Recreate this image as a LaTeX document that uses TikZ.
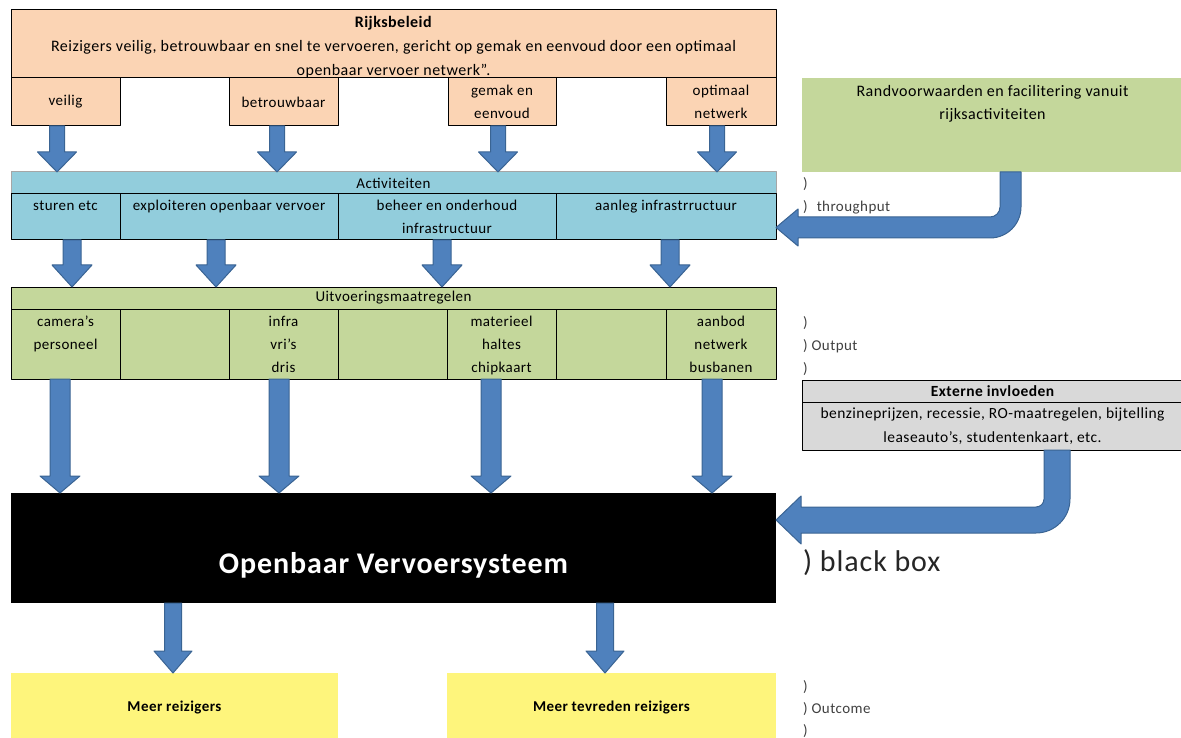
\documentclass[tikz,border=0pt]{standalone}
\usepackage{fontspec}
\setmainfont{Carlito}[LetterSpace=3]
\usetikzlibrary{positioning,calc}
\definecolor{peach}{HTML}{FBD4B4}
\definecolor{lblue}{HTML}{92CDDC}
\definecolor{olive}{HTML}{C4D79B}
\definecolor{lgray}{HTML}{D9D9D9}
\definecolor{lyellow}{HTML}{FEF57C}
\definecolor{arrblue}{HTML}{4F81BD}
\definecolor{arrline}{HTML}{3A6493}
% cell with its text at the top
\newcommand\topcell[3]{\parbox[b][#2pt][t]{#1pt}{\centering\rule{0pt}{17pt}#3}}
\begin{document}
\begin{tikzpicture}[x=1pt, y=-1pt, line join=round,
	font=\fontsize{15}{23}\selectfont,
	box/.style={draw, line width=1pt, inner sep=0pt, outer sep=0pt, anchor=north west, align=center},
	cell/.style={box, right=0pt of #1},
	fatarrow/.style={fill=arrblue, draw=arrline, line width=1pt},
	lbl/.style={inner sep=0pt, anchor=west, align=left, text=black!75}]
	\def\fatdown#1#2#3#4#5{\path[fatarrow] let \p1=#1, \p2=#2 in (\x1-#3pt,\y1) -- (\x1-#3pt,\y2+#5pt) -- (\x1-#4pt,\y2+#5pt) -- (\x1,\y2) -- (\x1+#4pt,\y2+#5pt) -- (\x1+#3pt,\y2+#5pt) -- (\x1+#3pt,\y1) -- cycle;}
	\def\bentarrow#1#2#3#4#5#6#7#8{\path[fatarrow] ($#1+(-#4,0)$) -- ($#2+(-#4,-#4-#7)$)
		.. controls ($#2+(-#4,-#4-0.448*#7)$) and ($#2+(-#4-0.448*#7,-#4)$) .. ($#2+(-#4-#7,-#4)$)
		-- ($#3+(#6,-#4)$) -- ($#3+(#6,-#5)$) -- #3 -- ($#3+(#6,#5)$) -- ($#3+(#6,#4)$)
		-- ($#2+(#4-#8,#4)$)
		.. controls ($#2+(#4-0.448*#8,#4)$) and ($#2+(#4,#4-0.448*#8)$) .. ($#2+(#4,#4-#8)$)
		-- ($#1+(#4,0)$) -- cycle;}
	\useasboundingbox (0,0) rectangle (1181,738);
	% beleid
	\node[box, fill=peach] (rijk) at (11,10) {\parbox[b][68pt][t]{765pt}{\centering\fontsize{16}{24}\selectfont\rule{0pt}{18pt}\textbf{Rijksbeleid}\\Reizigers veilig, betrouwbaar en snel te vervoeren, gericht op gemak en eenvoud door een optimaal\\openbaar vervoer netwerk”.}};
	\node[box, fill=peach, minimum width=109pt, minimum height=48pt] (veilig) at (11,78) {veilig};
	\node[box, fill=peach, minimum width=109pt, minimum height=48pt] (betr) at (229,78) {betrouwbaar};
	\node[box, fill=peach, minimum width=108pt, minimum height=48pt] (gemak) at (448,78) {gemak en\\eenvoud};
	\node[box, fill=peach, minimum width=110pt, minimum height=48pt] (optim) at (666,78) {optimaal\\netwerk};
	% activiteiten
	\node[box, fill=lblue, draw=black!35, minimum width=765pt, minimum height=22pt] (act) at (11,172) {Activiteiten};
	\node[box, fill=lblue] (sturen) at (11,194) {\topcell{109}{46}{sturen etc}};
	\node[cell=sturen, fill=lblue] (expl) {\topcell{218}{46}{exploiteren openbaar vervoer}};
	\node[cell=expl, fill=lblue] (beheer) {\topcell{218}{46}{beheer en onderhoud\\infrastructuur}};
	\node[cell=beheer, fill=lblue] (aanleg) {\topcell{220}{46}{aanleg infrastrructuur}};
	% uitvoering
	\node[box, fill=olive, minimum width=765pt, minimum height=22pt] (uitv) at (11,287) {Uitvoeringsmaatregelen};
	\node[box, fill=olive] (cam) at (11,309) {\topcell{109}{70}{camera's\\personeel}};
	\node[cell=cam, fill=olive] (u2) {\topcell{109}{70}{}};
	\node[cell=u2, fill=olive] (infra) {\topcell{109}{70}{infra\\vri's\\dris}};
	\node[cell=infra, fill=olive] (u4) {\topcell{109}{70}{}};
	\node[cell=u4, fill=olive] (mat) {\topcell{109}{70}{materieel\\haltes\\chipkaart}};
	\node[cell=mat, fill=olive] (u6) {\topcell{110}{70}{}};
	\node[cell=u6, fill=olive] (aanbod) {\topcell{110}{70}{aanbod\\netwerk\\busbanen}};
	% systeem en outcome
	\node[box, fill=black, draw=none, minimum width=765pt, text height=80pt, text depth=30pt, text=white, font=\fontsize{30}{36}\selectfont\bfseries] (ovs) at (11,493) {Openbaar Vervoersysteem};
	\node[box, fill=lyellow, draw=none, minimum width=327pt, minimum height=69pt, font=\fontsize{15}{20}\selectfont\bfseries] (meer) at (11,673) {Meer reizigers};
	\node[box, fill=lyellow, draw=none, minimum width=329pt, minimum height=69pt, font=\fontsize{15}{20}\selectfont\bfseries] (tevr) at (447,673) {Meer tevreden reizigers};
	% rechts
	\node[box, fill=olive, draw=none] (rand) at (802,78) {\parbox[b][94pt][t]{381pt}{\centering\fontsize{16}{23}\selectfont\rule{0pt}{19pt}Randvoorwaarden en facilitering vanuit\\rijksactiviteiten}};
	\node[box, fill=lgray, minimum width=381pt, minimum height=22pt, font=\fontsize{15.5}{23}\selectfont\bfseries] (ext) at (802,380) {Externe invloeden};
	\node[box, fill=lgray, minimum width=381pt, minimum height=48pt, font=\fontsize{15.5}{24}\selectfont] (extsub) at (802,402) {benzineprijzen, recessie, RO-maatregelen, bijtelling\\leaseauto's, studentenkaart, etc.};
	\node[lbl] (thr) at (803,196) {)\\)\hspace{9pt}throughput};
	\node[lbl] (outp) at (803,346) {)\\) Output\\)};
	\node[lbl, font=\fontsize{30}{36}\selectfont, text=black!85] (bbox) at (803,563) {) black box};
	\node[lbl, font=\fontsize{15}{22}\selectfont] (outc) at (803,709) {)\\) Outcome\\)};
	% pijlen
	\fatdown{([xshift=-8.5pt]veilig.south)}{(veilig.south |- act.north)}{7.5}{19.5}{20}
	\fatdown{([xshift=-6.5pt]betr.south)}{(betr.south |- act.north)}{7.5}{19.5}{20}
	\fatdown{([xshift=-4pt]gemak.south)}{(gemak.south |- act.north)}{7.5}{19.5}{20}
	\fatdown{([xshift=-4pt]optim.south)}{(optim.south |- act.north)}{7.5}{19.5}{20}
	\fatdown{([xshift=6.5pt]sturen.south)}{(sturen.south |- uitv.north)}{9}{20}{22}
	\fatdown{([xshift=-13pt]expl.south)}{(expl.south |- uitv.north)}{9}{20}{22}
	\fatdown{([xshift=-5pt]beheer.south)}{(beheer.south |- uitv.north)}{9}{20}{22}
	\fatdown{([xshift=4pt]aanleg.south)}{(aanleg.south |- uitv.north)}{9}{20}{22}
	\fatdown{([xshift=-5.5pt]cam.south)}{(cam.south |- ovs.north)}{10}{20}{17}
	\fatdown{([xshift=-4.5pt]infra.south)}{(infra.south |- ovs.north)}{10}{20}{17}
	\fatdown{([xshift=-10.5pt]mat.south)}{(mat.south |- ovs.north)}{10}{20}{17}
	\fatdown{([xshift=-9pt]aanbod.south)}{(aanbod.south |- ovs.north)}{10}{20}{17}
	\fatdown{([xshift=-1.5pt]meer.north |- ovs.south)}{(meer.north)}{8.5}{19}{22}
	\fatdown{([xshift=-6.5pt]tevr.north |- ovs.south)}{(tevr.north)}{8.5}{19}{22}
	\coordinate (knee1) at (1010.5,227.5);
	\coordinate (knee2) at (1057,520);
	\bentarrow{(knee1 |- rand.south)}{(knee1)}{(aanleg.east |- knee1)}{10.5}{18.5}{22}{10}{31}
	\bentarrow{(knee2 |- extsub.south)}{(knee2)}{(ovs.east |- knee2)}{13}{24}{25}{8}{34}
\end{tikzpicture}
\end{document}
